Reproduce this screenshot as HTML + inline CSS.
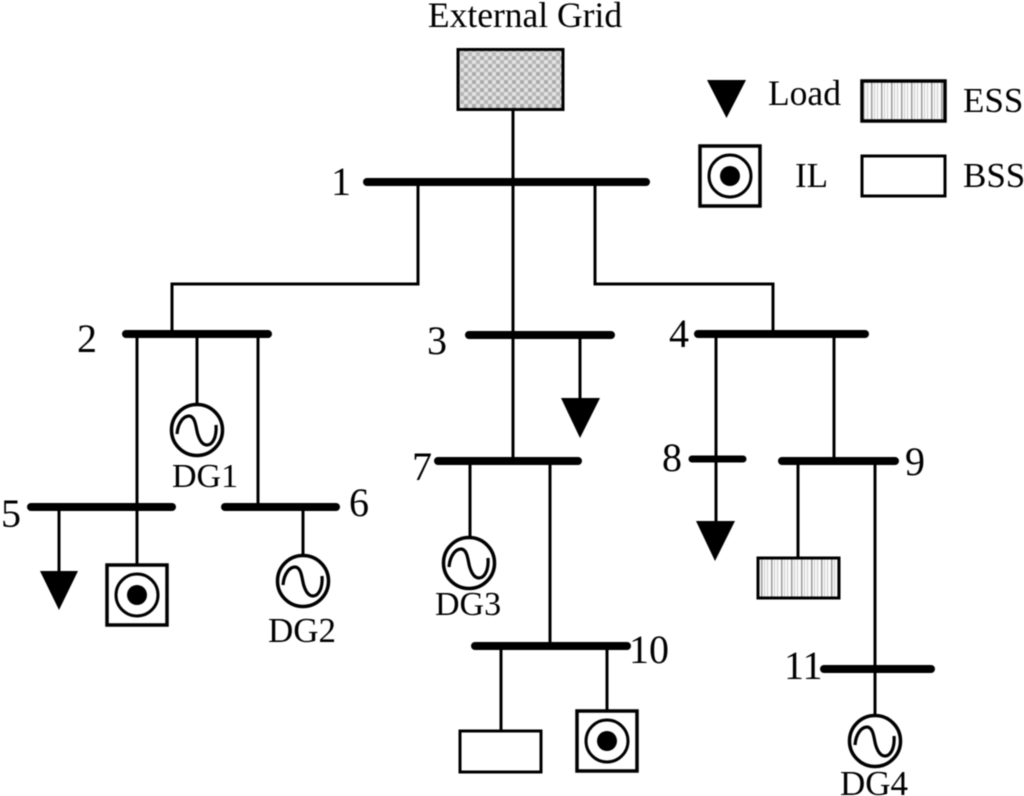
<!DOCTYPE html>
<html><head><meta charset="utf-8"><style>
html,body{margin:0;padding:0;background:#fff}
svg{display:block;filter:blur(0.4px)}
text{font-family:"Liberation Serif",serif;fill:#000}
.l{stroke:#000;stroke-width:3;fill:none}
.b{stroke:#000;stroke-width:8;stroke-linecap:round}
.g{stroke:#000;stroke-width:3;fill:#fff}
</style></head><body>
<svg width="1024" height="796" viewBox="0 0 1024 796" xmlns="http://www.w3.org/2000/svg">
<defs>
<pattern id="dots" width="8" height="8" patternUnits="userSpaceOnUse">
<rect width="8" height="8" fill="#e2e2e2"/><rect x="0" y="0" width="4" height="4" fill="#aaa"/><rect x="4" y="4" width="4" height="4" fill="#b8b8b8"/>
</pattern>
<pattern id="vert" width="10" height="10" patternUnits="userSpaceOnUse">
<rect width="10" height="10" fill="#fafafa"/><rect x="1" width="1.500" height="10" fill="#999"/><rect x="4" width="1" height="10" fill="#ccc"/><rect x="7" width="1" height="10" fill="#ccc"/>
</pattern>
<g id="il"><rect x="-30" y="-30" width="60" height="60" fill="#fff" stroke="#000" stroke-width="3.500"/><circle r="21" fill="#fff" stroke="#000" stroke-width="3"/><circle r="10" fill="#000"/></g>
<g id="dg"><circle r="25.500" fill="#fff" stroke="#000" stroke-width="3.500"/><path d="M-20 4C-19 -8 -13 -14 -8 -14C-1 -14 -1 0 1 5C3 11 6 15 10 15C15 15 20 8 19 -5" fill="none" stroke="#000" stroke-width="3.200"/></g>
</defs>

<path class="l" d="M513 110V460M418 182V284H172V334M595 182V284H773V334M137 334V620M197 334V410M258 334V507M59 507V575M303 507V560M580 335V400M716 334V525M834 334V460M470 460V540M550 460V646M501 646V732M607 646V712M798 460V560M875 460V720"/>

<g class="b">
<line x1="367" y1="182" x2="646" y2="182"/>
<line x1="126" y1="334" x2="268" y2="334"/>
<line x1="469" y1="335" x2="611" y2="335"/>
<line x1="698" y1="334" x2="865" y2="334"/>
<line x1="438" y1="461" x2="578" y2="461"/>
<line x1="782" y1="461" x2="895" y2="461"/>
<line x1="31" y1="507" x2="172" y2="507"/>
<line x1="225" y1="507" x2="336" y2="507"/>
<line x1="475" y1="646" x2="627" y2="646"/>
<line x1="824" y1="669" x2="931" y2="669"/>
<line x1="692" y1="459" x2="743" y2="459" stroke-width="7"/>
</g>

<rect x="458" y="49.500" width="105" height="60" fill="url(#dots)" stroke="#000" stroke-width="3"/>
<rect x="862" y="81" width="83" height="40" fill="url(#vert)" stroke="#000" stroke-width="3.500"/>
<rect x="862" y="156" width="83" height="40" class="g" stroke-width="3.500"/>
<rect x="758" y="558" width="81" height="40" fill="url(#vert)" stroke="#000" stroke-width="3"/>
<rect x="460" y="731" width="81" height="41" class="g"/>

<path d="M707 80H746L726.500 118Z M40 571H78L59 610Z M561 398H600L580 438Z M696 521H735L715 561Z" fill="#000"/>

<use href="#il" x="730" y="176"/>
<use href="#il" x="137" y="595"/>
<use href="#il" x="607" y="741"/>
<use href="#dg" x="197" y="430"/>
<use href="#dg" x="303" y="581"/>
<use href="#dg" x="469" y="563"/>
<use href="#dg" x="875" y="741"/>

<g font-size="35">
<text x="525" y="27" text-anchor="middle" font-size="35.500">External Grid</text>
<text x="768" y="105" font-size="35.500">Load</text>
<text x="963" y="112">ESS</text>
<text x="795" y="187">IL</text>
<text x="963" y="187">BSS</text>
<g font-size="40">
<text x="331" y="195">1</text>
<text x="77" y="352">2</text>
<text x="427" y="354">3</text>
<text x="669" y="347">4</text>
<text x="1" y="527">5</text>
<text x="349" y="516">6</text>
<text x="412" y="480">7</text>
<text x="662" y="471">8</text>
<text x="905" y="475">9</text>
<text x="629" y="663">10</text>
<text x="784" y="679">11</text>
</g>
<text x="172" y="487" font-size="34">DG1</text>
<text x="268" y="642">DG2</text>
<text x="435" y="615" font-size="34">DG3</text>
<text x="840" y="795">DG4</text>
</g>
</svg>
</body></html>
